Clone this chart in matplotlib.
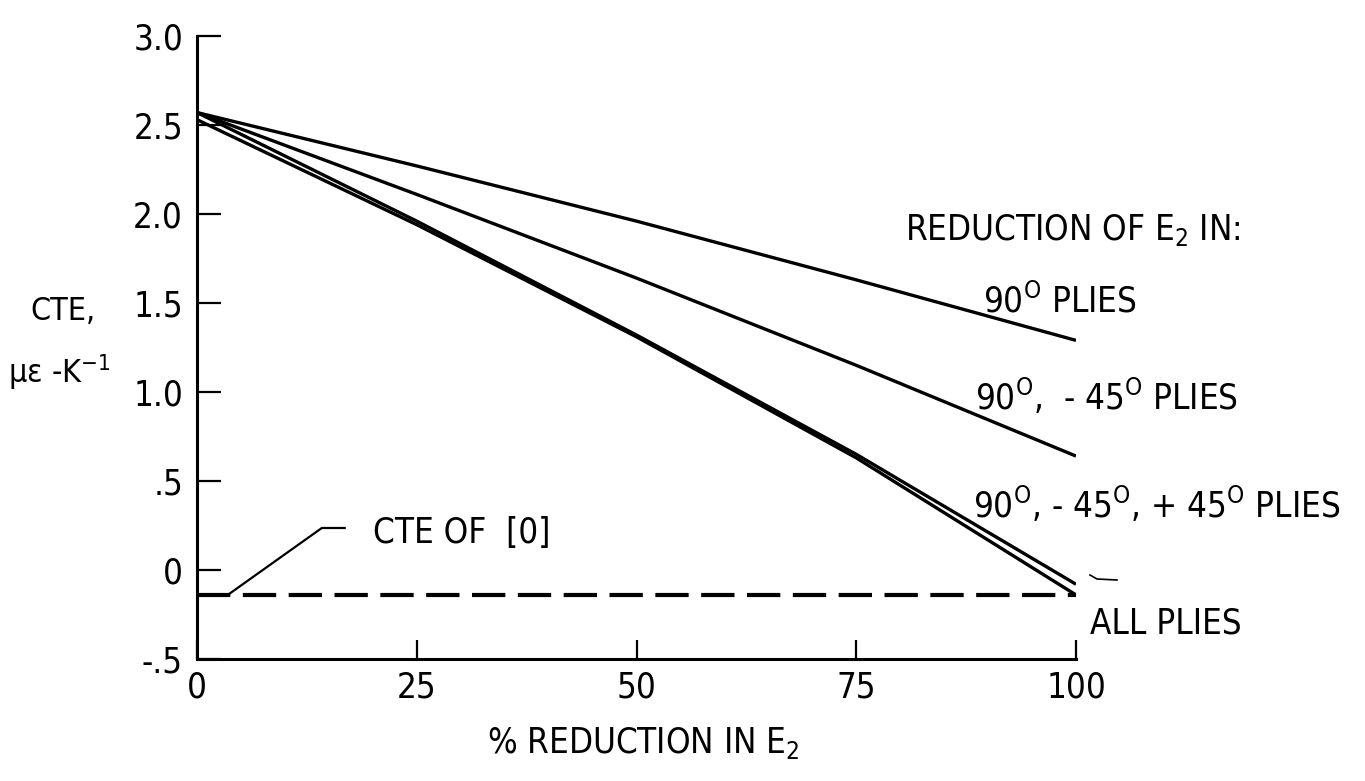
#!/usr/bin/env python3
# CTE of the laminate vs. % reduction in E2, for different groups of plies.

import matplotlib
matplotlib.use('Agg')
import matplotlib.pyplot as plt
from matplotlib import font_manager
from matplotlib.lines import Line2D

# the original lettering is a condensed sans; use one if there is one
narrow = None
for f in font_manager.fontManager.ttflist:
    fname = f.fname.lower()
    if ('narrow' in fname or 'condensed' in fname) and 'bold' not in fname \
            and 'oblique' not in fname and 'italic' not in fname:
        narrow = f
        break

if narrow is not None:
    font_manager.fontManager.addfont(narrow.fname)
    prop = font_manager.FontProperties(fname=narrow.fname)
    text_size, tick_size, ylab_size = 25, 25, 23
else:
    prop = font_manager.FontProperties(family='Liberation Sans')
    text_size, tick_size, ylab_size = 22, 23, 21

fam = prop.get_name()
plt.rcParams['font.family'] = [fam, 'DejaVu Sans']
if narrow is not None:
    plt.rcParams['font.stretch'] = narrow.stretch
plt.rcParams['mathtext.fontset'] = 'custom'
plt.rcParams['mathtext.rm'] = fam
plt.rcParams['mathtext.it'] = fam
plt.rcParams['mathtext.default'] = 'rm'

# data
pct_reduction = [0, 25, 50, 75, 100]
cte_90 = [2.57, 2.27, 1.96, 1.63, 1.29]
cte_90_m45 = [2.57, 2.11, 1.64, 1.15, 0.64]
cte_90_m45_p45 = [2.57, 1.96, 1.32, 0.65, -0.08]
cte_all = [2.53, 1.94, 1.31, 0.63, -0.14]
cte_zero_ply = -0.14

x_ticks = [0, 25, 50, 75, 100]
x_ticklabels = ['0', '25', '50', '75', '100']
y_ticks = [-0.5, 0, 0.5, 1.0, 1.5, 2.0, 2.5, 3.0]
y_ticklabels = ['-.5', '0', '.5', '1.0', '1.5', '2.0', '2.5', '3.0']

W, H = 1365, 781
fig = plt.figure(figsize=(W / 100, H / 100), dpi=100)
ax = fig.add_axes([197 / W, 1 - 659 / H, (1076 - 197) / W, (659 - 36) / H])


def fig_text(x, y, s, size=None):
    # x, y are pixel positions (left edge, baseline) measured from the top left
    fig.text(x / W, 1 - y / H, s, fontsize=size or text_size,
             ha='left', va='baseline')


for vals in [cte_90, cte_90_m45, cte_90_m45_p45, cte_all]:
    ax.plot(pct_reduction, vals, color='black', lw=2.4, solid_capstyle='butt')

ax.plot([pct_reduction[0], pct_reduction[-1]], [cte_zero_ply, cte_zero_ply],
        color='black', lw=3, dashes=(8, 3), dash_capstyle='butt')

# leader for the [0] label
ax.plot([3.5, 14.2, 16.8], [cte_zero_ply, 0.236, 0.236], color='black', lw=1.6)

ax.set_xlim(0, 100)
ax.set_ylim(-0.5, 3.0)
ax.set_xticks(x_ticks)
ax.set_xticklabels(x_ticklabels)
ax.set_yticks(y_ticks)
ax.set_yticklabels(y_ticklabels)
ax.spines['top'].set_visible(False)
ax.spines['right'].set_visible(False)
for s in ['left', 'bottom']:
    ax.spines[s].set_linewidth(2.2)
ax.tick_params(axis='y', direction='in', length=17, width=1.6, pad=10, labelsize=tick_size)
ax.tick_params(axis='x', direction='in', length=14, width=1.6, pad=8, labelsize=tick_size)

fig_text(905, 240, 'REDUCTION OF E$_2$ IN:')
fig_text(983, 313, '90$^{O}$ PLIES')
fig_text(975, 410, '90$^{O}$,  - 45$^{O}$ PLIES')
fig_text(973, 518, '90$^{O}$, - 45$^{O}$, + 45$^{O}$ PLIES')
fig_text(1090, 633, 'ALL PLIES')
fig_text(373, 543, 'CTE OF  [0]')
fig_text(30, 320, 'CTE,', size=ylab_size)
fig_text(8, 383, 'με -K$^{-1}$', size=ylab_size)
fig_text(487, 753, '% REDUCTION IN E$_2$')

# small stroke next to the end of the curves
fig.add_artist(Line2D([1090 / W, 1097 / W, 1117 / W],
                      [1 - 575 / H, 1 - 579 / H, 1 - 580 / H],
                      color='black', lw=1.2))

fig.savefig('out.png', dpi=100, facecolor='white')
